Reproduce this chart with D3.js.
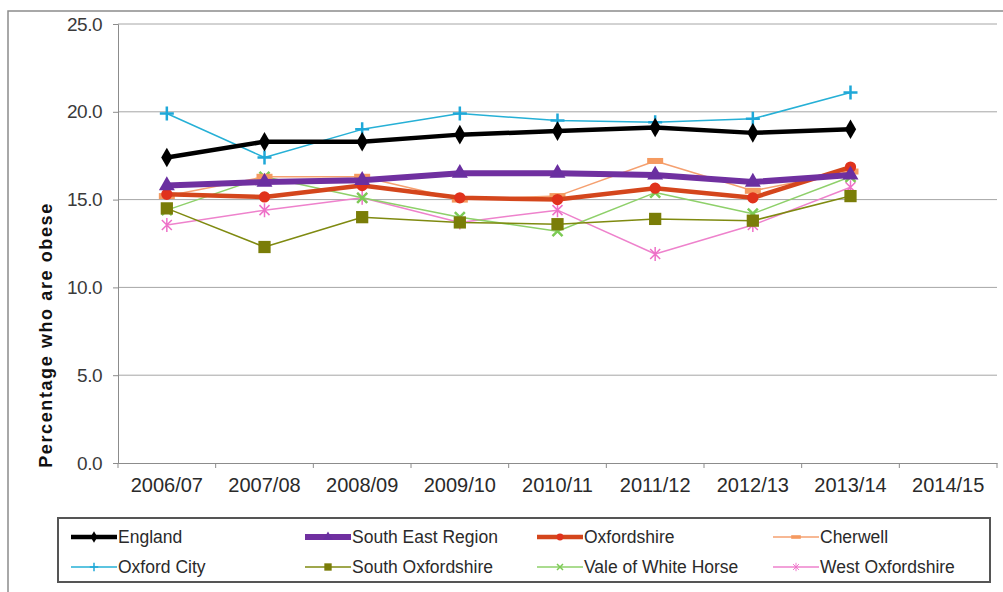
<!DOCTYPE html>
<html>
<head>
<meta charset="utf-8">
<script src="https://cdn.jsdelivr.net/npm/d3@7"></script>
<style>
  body { margin: 0; background: #fff; }
  svg text { font-family: Arial, "Liberation Sans", sans-serif; }
</style>
</head>
<body>
<div id="chart"></div>
<script>
// years on the x axis
const years = ['2006/07', '2007/08', '2008/09', '2009/10', '2010/11', '2011/12', '2012/13', '2013/14', '2014/15'];
const yTicks = [0, 5, 10, 15, 20, 25];

// values (2014/15 has no data)
const england = [17.4, 18.3, 18.3, 18.7, 18.9, 19.1, 18.8, 19.0];
const southEast = [15.8, 16.0, 16.1, 16.5, 16.5, 16.4, 16.0, 16.4];
const oxfordshire = [15.3, 15.15, 15.8, 15.1, 15.0, 15.65, 15.1, 16.85];
const cherwell = [15.2, 16.3, 16.3, 15.0, 15.2, 17.2, 15.5, 16.6];
const oxfordCity = [19.9, 17.4, 19.0, 19.9, 19.5, 19.4, 19.6, 21.1];
const southOxon = [14.5, 12.3, 14.0, 13.7, 13.6, 13.9, 13.8, 15.2];
const vale = [14.4, 16.3, 15.1, 14.0, 13.2, 15.4, 14.2, 16.3];
const westOxon = [13.55, 14.4, 15.1, 13.7, 14.4, 11.9, 13.55, 15.7];

const series = [
  { name: 'England', values: england, color: '#000000', mcolor: '#000000', width: 4.5, symbol: d3.symbolDiamond, size: 110 },
  { name: 'South East Region', values: southEast, color: '#7030A0', mcolor: '#6a2fa0', width: 6, symbol: d3.symbolTriangle, size: 110 },
  { name: 'Oxfordshire', values: oxfordshire, color: '#D4461C', mcolor: '#E0321C', width: 4.5, symbol: d3.symbolCircle, size: 100 },
  { name: 'Cherwell', values: cherwell, color: '#F5A070', mcolor: '#F59A60', width: 1.5, symbol: 'dash', size: 0 },
  { name: 'Oxford City', values: oxfordCity, color: '#26B0D6', mcolor: '#1FA8D8', width: 1.5, symbol: 'plus', size: 0 },
  { name: 'South Oxfordshire', values: southOxon, color: '#7F8A10', mcolor: '#7A7D08', width: 1.5, symbol: d3.symbolSquare, size: 150 },
  { name: 'Vale of White Horse', values: vale, color: '#8ED06A', mcolor: '#7CCB55', width: 1.5, symbol: 'cross', size: 0 },
  { name: 'West Oxfordshire', values: westOxon, color: '#EE82CC', mcolor: '#EE70C8', width: 1.5, symbol: 'star', size: 0 }
];

const width = 1003, height = 592;
const plotLeft = 118, plotRight = 997, plotTop = 24, plotBottom = 463;

const svg = d3.select('#chart').append('svg')
  .attr('width', width)
  .attr('height', height);

// outer chart border (cut off at right and bottom)
svg.append('rect')
  .attr('x', 8).attr('y', 11)
  .attr('width', 1010).attr('height', 600)
  .attr('fill', 'none')
  .attr('stroke', '#8c8c8c')
  .attr('stroke-width', 1.5);

const x = d3.scaleBand().domain(years).range([plotLeft, plotRight]);
const y = d3.scaleLinear().domain([0, 25]).range([plotBottom, plotTop]);

// gridlines
svg.append('g')
  .selectAll('line')
  .data(yTicks.filter(d => d > 0))
  .enter()
  .append('line')
  .attr('x1', plotLeft).attr('x2', plotRight)
  .attr('y1', d => y(d)).attr('y2', d => y(d))
  .attr('stroke', '#a6a6a6')
  .attr('stroke-width', 1);

// y axis
const yAxis = svg.append('g')
  .attr('transform', `translate(${plotLeft},0)`)
  .call(d3.axisLeft(y).tickValues(yTicks).tickFormat(d3.format('.1f')).tickSize(5).tickPadding(11));
yAxis.select('.domain').attr('stroke', '#8c8c8c');
yAxis.selectAll('.tick line').attr('stroke', '#8c8c8c');
yAxis.selectAll('text').attr('font-size', 19).attr('fill', '#3a3a3a').attr('letter-spacing', '-0.5px');

// x axis
const xAxis = svg.append('g')
  .attr('transform', `translate(0,${plotBottom})`)
  .call(d3.axisBottom(x).tickSize(0).tickPadding(15));
xAxis.select('.domain').attr('stroke', '#8c8c8c');
xAxis.selectAll('text').attr('font-size', 20).attr('fill', '#2a2a2a');
// tick marks at band edges
xAxis.selectAll('.edge')
  .data(years.map(d => x(d)).concat([plotRight]))
  .enter()
  .append('line')
  .attr('x1', d => d).attr('x2', d => d)
  .attr('y1', 0).attr('y2', 5)
  .attr('stroke', '#8c8c8c');

// y axis title
svg.append('text')
  .attr('transform', 'translate(52,335) rotate(-90)')
  .attr('text-anchor', 'middle')
  .attr('font-size', 18)
  .attr('font-weight', 'bold')
  .attr('letter-spacing', '1.6px')
  .attr('fill', '#111')
  .text('Percentage who are obese');

function drawMarker(g, s, cx, cy, scale) {
  const k = scale || 1;
  if (s.symbol === 'plus') {
    g.append('path')
      .attr('d', `M${cx - 7 * k},${cy}H${cx + 7 * k}M${cx},${cy - 7 * k}V${cy + 7 * k}`)
      .attr('stroke', s.mcolor).attr('stroke-width', 2.5 * k).attr('fill', 'none');
  } else if (s.symbol === 'cross') {
    g.append('path')
      .attr('d', `M${cx - 5 * k},${cy - 5 * k}L${cx + 5 * k},${cy + 5 * k}M${cx - 5 * k},${cy + 5 * k}L${cx + 5 * k},${cy - 5 * k}`)
      .attr('stroke', s.mcolor).attr('stroke-width', 2.5 * k).attr('fill', 'none');
  } else if (s.symbol === 'star') {
    g.append('path')
      .attr('d', `M${cx - 5 * k},${cy - 5 * k}L${cx + 5 * k},${cy + 5 * k}M${cx - 5 * k},${cy + 5 * k}L${cx + 5 * k},${cy - 5 * k}M${cx},${cy - 7 * k}V${cy + 7 * k}`)
      .attr('stroke', s.mcolor).attr('stroke-width', 1.5 * k).attr('fill', 'none');
  } else if (s.symbol === 'dash') {
    g.append('rect')
      .attr('x', cx - 8 * k).attr('y', cy - 3 * k)
      .attr('width', 16 * k).attr('height', 6 * k)
      .attr('fill', s.mcolor);
  } else {
    g.append('path')
      .attr('transform', `translate(${cx},${cy})`)
      .attr('d', d3.symbol().type(s.symbol).size(s.size * k * k)())
      .attr('fill', s.mcolor);
  }
}

// series lines, drawn from the back (thin ones) to the front
const line = d3.line()
  .x((d, i) => x(years[i]) + x.bandwidth() / 2)
  .y(d => y(d));

const drawOrder = [7, 6, 5, 4, 3, 2, 1, 0];
drawOrder.forEach(idx => {
  const s = series[idx];
  const g = svg.append('g');
  g.append('path')
    .datum(s.values)
    .attr('d', line)
    .attr('fill', 'none')
    .attr('stroke', s.color)
    .attr('stroke-width', s.width)
    .attr('stroke-linejoin', 'round');
  s.values.forEach((v, i) => {
    drawMarker(g, s, x(years[i]) + x.bandwidth() / 2, y(v));
  });
});

// legend
const legend = svg.append('g');
legend.append('rect')
  .attr('x', 58).attr('y', 518)
  .attr('width', 932).attr('height', 64)
  .attr('fill', '#fff')
  .attr('stroke', '#555')
  .attr('stroke-width', 2);

const colX = [71, 305, 537, 773];
const rowY = [537, 567];
series.forEach((s, i) => {
  const lx = colX[i % 4];
  const ly = rowY[Math.floor(i / 4)];
  const g = legend.append('g');
  g.append('line')
    .attr('x1', lx).attr('x2', lx + 46)
    .attr('y1', ly).attr('y2', ly)
    .attr('stroke', s.color)
    .attr('stroke-width', s.width);
  drawMarker(g, s, lx + 23, ly, 0.6);
  g.append('text')
    .attr('x', lx + 47).attr('y', ly + 6)
    .attr('font-size', 17.5)
    .attr('fill', '#2a2a2a')
    .text(s.name);
});
</script>
</body>
</html>
